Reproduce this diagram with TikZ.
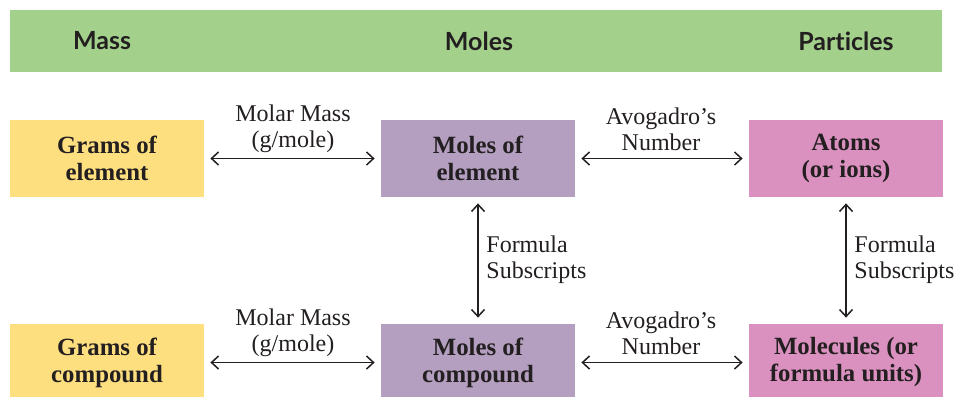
\documentclass[tikz,border=0pt]{standalone}
\usepackage{fontspec}
\setmainfont{Liberation Serif}
\newfontfamily\hdrfont{Lato}[Ligatures=NoCommon]
\usetikzlibrary{arrows.meta}
\definecolor{hdrgreen}{HTML}{A3D18C}
\definecolor{boxyellow}{HTML}{FEDF80}
\definecolor{boxpurple}{HTML}{B49FC0}
\definecolor{boxpink}{HTML}{DB91BF}
\definecolor{txt}{HTML}{231F20}
\begin{document}
\begin{tikzpicture}[x=0.5pt,y=-0.5pt,
  box/.style={minimum width=97pt, minimum height=38.5pt, inner sep=0pt, align=center,
    font=\fontsize{12.4}{13.5}\selectfont\bfseries, text=txt},
  hdr/.style={font=\hdrfont\bfseries\fontsize{12.5}{14}\selectfont, text=txt},
  conv/.style={{Straight Barb[length=3.5pt,width=6.5pt]}-{Straight Barb[length=3.5pt,width=6.5pt]},
    line width=0.75pt, shorten <=3pt, shorten >=3pt, draw=txt},
  lbl/.style={font=\fontsize{12}{13}\selectfont, align=center, text=txt, inner sep=0pt}]
\clip (0,0) rectangle (956,396);
\fill[white] (0,0) rectangle (956,396);
% header
\node[fill=hdrgreen, minimum width=466pt, minimum height=31pt, inner sep=0pt] (bar) at (476,41) {};
\node[hdr] (hmass) at (102,41) {Mass};
\node[hdr] (hmoles) at (479,41) {Moles};
\node[hdr] (hpart) at (846,41) {Particles};
% boxes
\node[box, fill=boxyellow] (ge) at (107,158.5) {Grams of\\element};
\node[box, fill=boxpurple] (me) at (478,158.5) {Moles of\\element};
\node[box, fill=boxpink] (at) at (846,158.5) {Atoms\\(or ions)};
\node[box, fill=boxyellow] (gc) at (107,362.5) {Grams of\\compound};
\node[box, fill=boxpurple] (mc) at (478,362.5) {Moles of\\compound};
\node[box, fill=boxpink] (mo) at (846,362.5) {Molecules (or\\formula units)};
% connectors
\draw[conv] (ge.east) -- (me.west);
\draw[conv] (me.east) -- (at.west);
\draw[conv] (gc.east) -- (mc.west);
\draw[conv] (mc.east) -- (mo.west);
\draw[conv] (me.south) -- (mc.north);
\draw[conv] (at.south) -- (mo.north);
% labels
\node[lbl] (l1) at (293,129) {Molar Mass\\(g/mole)};
\node[lbl] (l2) at (661,129) {Avogadro’s\\Number};
\node[lbl] (l3) at (293,333) {Molar Mass\\(g/mole)};
\node[lbl] (l4) at (661,333) {Avogadro’s\\Number};
\node[lbl, anchor=west, align=left] (l5) at (486,260) {Formula\\Subscripts};
\node[lbl, anchor=west, align=left] (l6) at (854,260) {Formula\\Subscripts};
\end{tikzpicture}
\end{document}
